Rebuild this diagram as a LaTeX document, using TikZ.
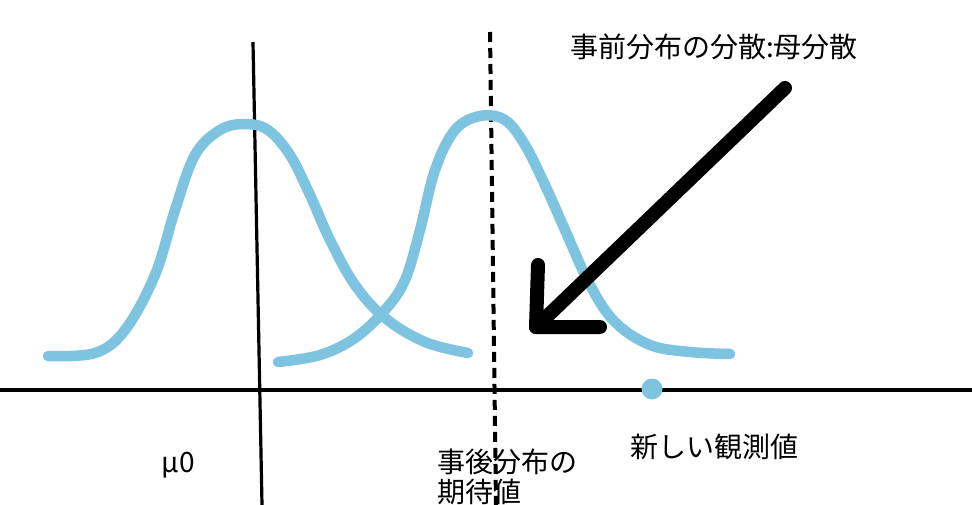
\documentclass[tikz,border=0pt]{standalone}
\usepackage{fontspec}
\setmainfont{Noto Sans CJK JP}
\usetikzlibrary{positioning}
\definecolor{bellblue}{RGB}{126,195,224}

\begin{document}
\begin{tikzpicture}[x=1pt,y=-1pt]
   \tikzset{bell/.style={draw=bellblue, line width=10.5pt, line cap=round, line join=round},
            jtext/.style={font=\fontsize{28}{30}\selectfont, inner sep=0pt}}
   \useasboundingbox (0,0) rectangle (972,505);

   % axis and the two vertical lines
   \coordinate (axis left) at (0,390);
   \coordinate (axis right) at (972,390);
   \coordinate (prior top) at (253,42);
   \coordinate (prior bottom) at (262,505);
   \coordinate (post top) at (490,32);
   \coordinate (post bottom) at (496,505);
   \draw[line width=3.5pt] (axis left) -- (axis right);
   \draw[line width=3.2pt] (prior top) -- (prior bottom);
   \draw[line width=4pt, dash pattern=on 10pt off 6pt] (post top) -- (post bottom);

   % prior and posterior bells
   \draw[bell] plot[smooth, tension=0.6] coordinates {(48,356) (95,353) (125,330) (155,275) (175,210)
      (195,155) (220,130) (245,124) (268,130) (290,155) (310,195) (330,240) (355,285) (385,318) (425,342) (468,353)};
   \draw[bell] plot[smooth, tension=0.6] coordinates {(278,362) (320,355) (355,338) (385,310) (405,280)
      (420,230) (435,170) (455,130) (480,116) (505,120) (525,145) (545,185) (565,230) (590,285)
      (615,322) (650,345) (690,352) (730,354)};

   \node (obs) [circle, fill=bellblue, minimum size=21pt, inner sep=0pt] at (652,389) {};

   % big arrow
   \coordinate (tail) at (785,88);
   \coordinate (tip) at (536,327);
   \coordinate (head up) at (538,265);
   \coordinate (head right) at (600,327);
   \draw[line width=14pt, line cap=round, line join=round] (tail) -- (tip);
   \draw[line width=14pt, line cap=round, line join=round] (head up) -- (tip) -- (head right);

   % labels
   \node (variance) [jtext, anchor=west] at (570,47) {事前分布の分散:母分散};
   \node (mu) [jtext] at (178,465) {μ0};
   \node (expect) [jtext, anchor=west, align=left] at (437,477) {事後分布の\\期待値};
   \node (newobs) [jtext, anchor=west] at (630,447) {新しい観測値};
\end{tikzpicture}
\end{document}
